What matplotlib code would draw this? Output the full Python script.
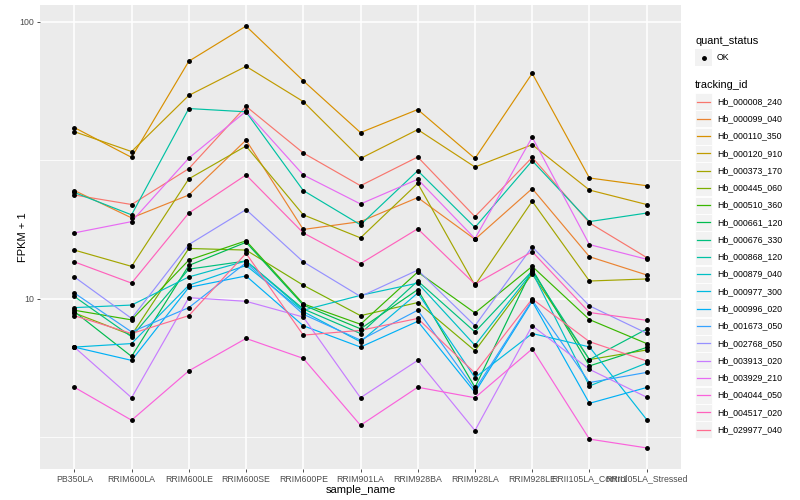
import numpy as np
import matplotlib
matplotlib.use("Agg")
import matplotlib.pyplot as plt
from matplotlib.lines import Line2D
from matplotlib.patches import Rectangle

plt.rcParams['font.family'] = ['Liberation Sans', 'DejaVu Sans']

samples = ["PB350LA", "RRIM600LA", "RRIM600LE", "RRIM600SE", "RRIM600PE", "RRIM901LA",
           "RRIM928BA", "RRIM928LA", "RRIM928LE", "RRII105LA_Control", "RRII105LA_Stressed"]

tracking_ids = ["Hb_000008_240", "Hb_000099_040", "Hb_000110_350", "Hb_000120_910",
                "Hb_000373_170", "Hb_000445_060", "Hb_000510_360", "Hb_000661_120",
                "Hb_000676_330", "Hb_000868_120", "Hb_000879_040", "Hb_000977_300",
                "Hb_000996_020", "Hb_001673_050", "Hb_002768_050", "Hb_003913_020",
                "Hb_003929_210", "Hb_004044_050", "Hb_004517_020", "Hb_029977_040"]

hb_000008_240 = [23.7, 21.9, 29.5, 49.5, 33.6, 25.6, 32.5, 19.8, 32.4, 18.8, 14.1]
hb_000099_040 = [24.6, 19.6, 23.7, 37.4, 17.8, 19.0, 23.2, 16.4, 25.0, 14.2, 12.2]
hb_000110_350 = [41.5, 32.4, 72.0, 96.4, 61.2, 39.8, 48.2, 32.1, 65.1, 27.3, 25.6]
hb_000120_910 = [40.1, 34.0, 54.2, 69.0, 51.5, 32.1, 40.8, 29.9, 36.0, 24.7, 21.9]
hb_000373_170 = [15.0, 13.1, 27.1, 35.6, 20.1, 16.6, 26.1, 11.2, 22.5, 11.6, 11.8]
hb_000445_060 = [8.9, 7.4, 15.2, 15.0, 11.2, 8.7, 9.7, 6.5, 12.3, 6.04, 6.54]
hb_000510_360 = [9.1, 8.4, 13.8, 16.2, 9.6, 8.1, 12.5, 8.9, 13.1, 8.42, 6.90]
hb_000661_120 = [9.0, 6.2, 13.2, 16.0, 9.5, 7.8, 10.8, 4.8, 12.8, 5.73, 6.68]
hb_000676_330 = [10.2, 7.3, 12.8, 13.7, 9.2, 7.5, 11.6, 7.6, 12.6, 6.04, 7.78]
hb_000868_120 = [24.2, 20.1, 48.6, 47.3, 24.6, 18.5, 29.0, 18.1, 31.5, 19.0, 20.4]
hb_000879_040 = [9.3, 9.5, 12.0, 13.7, 9.1, 10.3, 11.4, 6.8, 12.5, 4.85, 5.87]
hb_000977_300 = [6.7, 6.9, 11.2, 13.2, 9.0, 7.0, 10.5, 5.2, 7.5, 6.71, 3.67]
hb_000996_020 = [6.7, 6.0, 11.0, 12.1, 8.0, 6.7, 8.3, 4.6, 9.8, 4.20, 4.79]
hb_001673_050 = [10.5, 7.6, 9.3, 13.5, 8.8, 7.1, 9.1, 4.7, 9.9, 4.99, 5.43]
hb_002768_050 = [12.0, 8.5, 15.7, 21.0, 13.6, 10.2, 12.7, 8.0, 15.4, 9.44, 7.52]
hb_003913_020 = [6.7, 4.4, 10.1, 9.8, 8.6, 4.4, 6.0, 3.35, 8.0, 5.57, 4.42]
hb_003929_210 = [17.3, 19.0, 32.2, 47.5, 28.0, 22.0, 27.0, 16.5, 38.3, 15.7, 13.9]
hb_004044_050 = [4.8, 3.65, 5.5, 7.2, 6.1, 3.5, 4.8, 4.4, 6.6, 3.12, 2.90]
hb_004517_020 = [13.6, 11.4, 20.4, 28.0, 17.3, 13.4, 17.9, 11.3, 14.8, 8.93, 8.37]
hb_029977_040 = [8.7, 7.5, 8.7, 14.6, 7.4, 7.7, 8.5, 5.4, 10.0, 7.01, 5.97]

series = [hb_000008_240, hb_000099_040, hb_000110_350, hb_000120_910, hb_000373_170,
          hb_000445_060, hb_000510_360, hb_000661_120, hb_000676_330, hb_000868_120,
          hb_000879_040, hb_000977_300, hb_000996_020, hb_001673_050, hb_002768_050,
          hb_003913_020, hb_003929_210, hb_004044_050, hb_004517_020, hb_029977_040]

colors = ["#F8766D", "#EA8331", "#D89000", "#C09B00", "#A3A500", "#7CAE00", "#39B600",
          "#00BB4E", "#00BF7D", "#00C1A3", "#00BFC4", "#00BAE0", "#00B0F6", "#35A2FF",
          "#9590FF", "#C77CFF", "#E76BF3", "#FA62DB", "#FF62BC", "#FF6C90"]

W, H = 800, 500
fig = plt.figure(figsize=(8, 5), dpi=100)
fig.patch.set_facecolor("white")

left, right, top, bottom = 40, 681, 5, 469
ax = fig.add_axes([left / W, 1 - bottom / H, (right - left) / W, (bottom - top) / H])
ax.set_facecolor("#EBEBEB")
ax.set_yscale("log")

x = np.arange(len(samples))
allv = np.log10(np.concatenate([np.array(s) for s in series]))
lo, hi = allv.min(), allv.max()
pad = (hi - lo) * 0.05
ax.set_ylim(10 ** (lo - pad), 10 ** (hi + pad))
ax.set_xlim(-0.6, len(samples) - 1 + 0.6)

# grid
for v in [10 ** 0.5, 10 ** 1.5]:
    ax.axhline(v, color="white", lw=0.55, zorder=0)
for v in [10, 100]:
    ax.axhline(v, color="white", lw=1.1, zorder=0)
for xi in x:
    ax.axvline(xi, color="white", lw=1.1, zorder=0)

for s, c in zip(series, colors):
    ax.plot(x, s, color=c, lw=0.85, zorder=2)
for s in series:
    ax.plot(x, s, linestyle="none", marker="o", ms=2.5, color="black", zorder=3)

for sp in ax.spines.values():
    sp.set_visible(False)
ax.set_yticks([10, 100])
ax.set_yticklabels(["10", "100"])
ax.yaxis.set_minor_locator(matplotlib.ticker.NullLocator())
ax.set_xticks(x)
ax.set_xticklabels(samples)
ax.tick_params(axis="both", which="major", length=2.5, width=0.6, color="#333333",
               labelsize=6.3, labelcolor="#4D4D4D", pad=1.5)
ax.set_xlabel("sample_name", fontsize=8, color="black", labelpad=1)
ax.set_ylabel("FPKM + 1", fontsize=8, color="black", labelpad=2)
ax.yaxis.set_label_coords(-12 / (right - left), 0.5)

# legend (manual, ggplot style)
def fx(px):
    return px / W

def fy(py):
    return 1 - py / H

fig.text(fx(695), fy(41), "quant_status", fontsize=7.9, va="center", ha="left")
fig.add_artist(Rectangle((fx(695), fy(66)), 17 / W, 17 / H, transform=fig.transFigure,
                         facecolor="#F2F2F2", edgecolor="none"))
fig.add_artist(Line2D([fx(703.5)], [fy(57.5)], marker="o", ms=2.5, color="black",
                      transform=fig.transFigure))
fig.text(fx(717), fy(57.5), "OK", fontsize=6.3, va="center", ha="left")

fig.text(fx(695), fy(85), "tracking_id", fontsize=7.9, va="center", ha="left")
y0, dy = 101.5, 17.27
for i, (tid, c) in enumerate(zip(tracking_ids, colors)):
    yc = y0 + i * dy
    fig.add_artist(Rectangle((fx(695), fy(yc + 8.5)), 17 / W, 17 / H, transform=fig.transFigure,
                             facecolor="#F2F2F2", edgecolor="white", lw=0.6))
    fig.add_artist(Line2D([fx(697), fx(710)], [fy(yc), fy(yc)], color=c, lw=0.9,
                          transform=fig.transFigure))
    fig.text(fx(717), fy(yc), tid, fontsize=6.3, va="center", ha="left")

fig.savefig("out.png", dpi=100)
